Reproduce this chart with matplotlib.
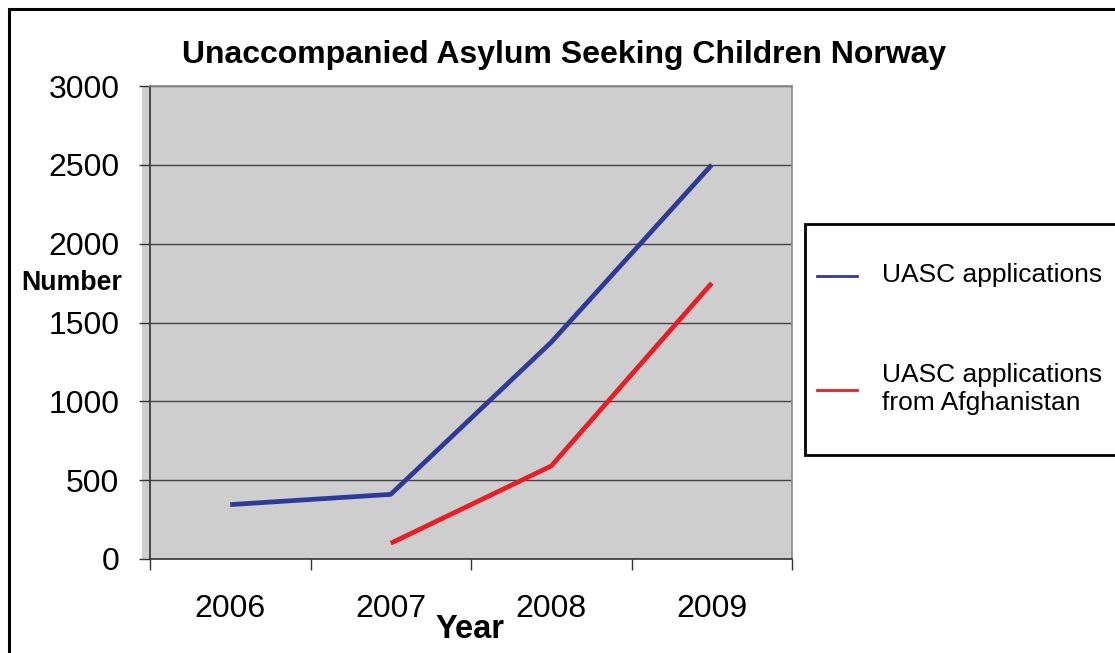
import matplotlib
matplotlib.use("Agg")
import matplotlib.pyplot as plt
from matplotlib.patches import Rectangle
from matplotlib.lines import Line2D

plt.rcParams['font.family'] = ['Liberation Sans', 'DejaVu Sans']

years = ["2006", "2007", "2008", "2009"]
uasc_total = [345, 410, 1375, 2500]
uasc_afghan = [None, 100, 590, 1750]
y_ticks = [0, 500, 1000, 1500, 2000, 2500, 3000]

W, H = 1115, 653
fig = plt.figure(figsize=(W / 100, H / 100), dpi=100)
fig.patch.set_facecolor("white")

# outer chart frame
fig.add_artist(Rectangle((9 / W, -0.1), 1.2, 1 - 9 / H + 0.1, transform=fig.transFigure,
                         fill=False, edgecolor="black", linewidth=2.2, zorder=0))

left, right, top, bottom = 150, 792, 86, 559
ax = fig.add_axes([left / W, 1 - bottom / H, (right - left) / W, (bottom - top) / H])
ax.set_facecolor("#cecece")

# gray band under the y tick marks
fig.add_artist(Rectangle((142 / W, 1 - bottom / H), 8 / W, (bottom - top) / H,
                         transform=fig.transFigure, facecolor="#cecece", edgecolor="none", zorder=0))

xs = [i + 0.5 for i in range(len(years))]
ax.set_xlim(0, len(years))
ax.set_ylim(0, 3000)

ax.set_yticks(y_ticks)
ax.set_yticklabels([str(v) for v in y_ticks], fontsize=23)
ax.set_xticks(range(len(years) + 1))
ax.set_xticklabels([])
for x, lab in zip(xs, years):
    ax.text(x, -0.105, lab, transform=ax.get_xaxis_transform(), ha="center", va="center", fontsize=23)

ax.tick_params(axis="y", length=8, width=1, color="#333333", pad=14, direction="out")
ax.tick_params(axis="x", length=8, width=1, color="#333333", direction="out")
ax.yaxis.grid(True, color="#444444", linewidth=1)
ax.set_axisbelow(True)
for s in ["top", "right"]:
    ax.spines[s].set_color("#8a8a8a")
    ax.spines[s].set_linewidth(1.2)
for s in ["left", "bottom"]:
    ax.spines[s].set_color("#333333")
    ax.spines[s].set_linewidth(1.2)

ax.plot(xs, uasc_total, color="#2e3a9a", linewidth=3.4, solid_capstyle="butt", zorder=3)
af_x = [x for x, v in zip(xs, uasc_afghan) if v is not None]
af_y = [v for v in uasc_afghan if v is not None]
ax.plot(af_x, af_y, color="#ed1c24", linewidth=3.4, solid_capstyle="butt", zorder=3)

fig.text(564 / W, 1 - 55 / H, "Unaccompanied Asylum Seeking Children Norway",
         ha="center", va="center", fontsize=23, fontweight="bold")
fig.text(72 / W, 1 - 283 / H, "Number", ha="center", va="center", fontsize=19.3, fontweight="bold")
fig.text(470 / W, 1 - 630 / H, "Year", ha="center", va="center", fontsize=23.5, fontweight="bold")

# legend box
lx0, ly0, lx1, ly1 = 805, 224, 1120, 455
fig.add_artist(Rectangle((lx0 / W, 1 - ly1 / H), (lx1 - lx0) / W, (ly1 - ly0) / H,
                         transform=fig.transFigure, facecolor="white", edgecolor="black",
                         linewidth=2, zorder=5))
for yy, col in [(276, "#2e3a9a"), (390, "#ed1c24")]:
    fig.add_artist(Line2D([817 / W, 857 / W], [1 - yy / H, 1 - yy / H], transform=fig.transFigure,
                          color=col, linewidth=2, zorder=6))
fig.text(882 / W, 1 - 275 / H, "UASC applications", ha="left", va="center", fontsize=19, zorder=6)
fig.text(882 / W, 1 - 389 / H, "UASC applications\nfrom Afghanistan", ha="left", va="center",
         fontsize=19, linespacing=1.18, zorder=6)

fig.savefig("out.png", dpi=100)
